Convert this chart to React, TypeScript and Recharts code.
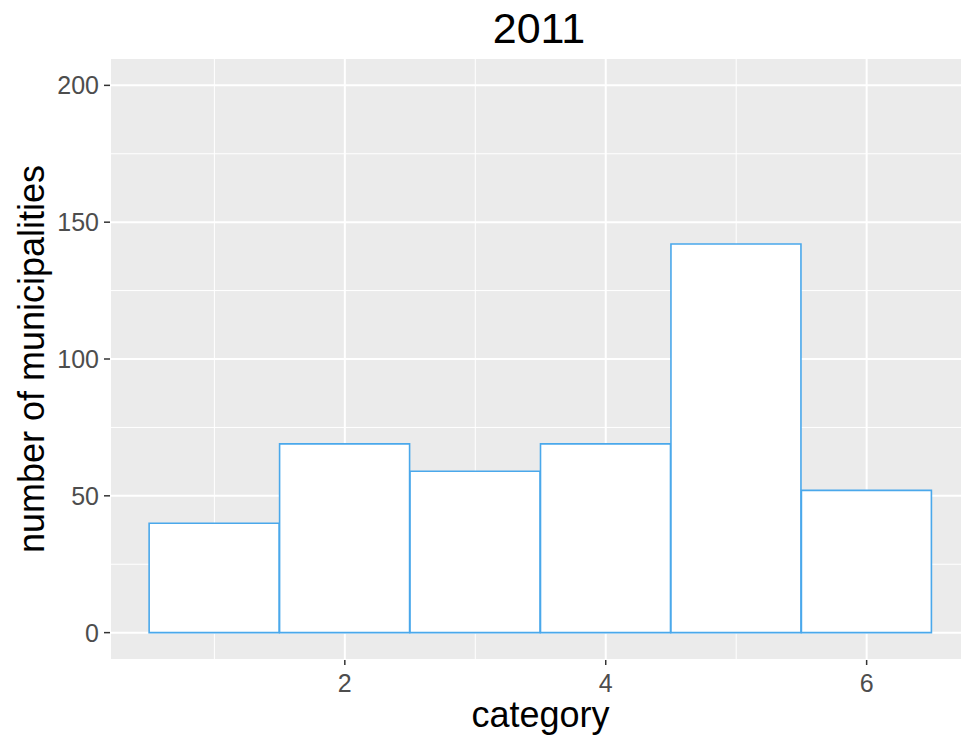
import { ComposedChart, Bar, XAxis, YAxis, CartesianGrid, Label } from "recharts";

// counts per category
const categories = [1, 2, 3, 4, 5, 6];
const counts = [40, 69, 59, 69, 142, 52];

const xTicks = [2, 4, 6];
const xMinor = [1, 3, 5];
const yTicks = [0, 50, 100, 150, 200];
const yMinor = [25, 75, 125, 175];

const rows = categories.map((c, i) => ({ category: c, count: counts[i] }));

const FONT = "'Liberation Sans', Arial, sans-serif";
const tickStyle = { fill: "#4D4D4D", fontSize: 25, fontFamily: FONT };
const X_DOMAIN: [number, number] = [0.2, 6.8];
const Y_DOMAIN: [number, number] = [-10, 210];

export default function App() {
	return (
		<div style={{ position: "absolute", left: 0, top: 0, width: 961, height: 739, background: "#fff", overflow: "hidden" }}>
			<ComposedChart
				width={961}
				height={739}
				data={rows}
				margin={{ top: 58, right: -10, left: 0, bottom: 0 }}
				barCategoryGap={0}
				barGap={0}
			>
				{/* panel + minor grid (hidden helper axes carry the minor breaks) */}
				<CartesianGrid fill="#EBEBEB" stroke="#FFFFFF" strokeWidth={1} xAxisId="minor" yAxisId="minor" />
				{/* major grid */}
				<CartesianGrid stroke="#FFFFFF" strokeWidth={2} fill="none" />
				<XAxis xAxisId="minor" dataKey="category" type="number" domain={X_DOMAIN} ticks={xMinor} allowDataOverflow hide />
				<YAxis yAxisId="minor" type="number" domain={Y_DOMAIN} ticks={yMinor} allowDataOverflow hide />
				<XAxis
					dataKey="category"
					type="number"
					domain={X_DOMAIN}
					ticks={xTicks}
					allowDataOverflow
					height={79}
					axisLine={false}
					tickSize={5}
					tickMargin={9}
					tickLine={{ stroke: "#333333", strokeWidth: 1.5 }}
					tick={tickStyle}
				>
					<Label value="category" position="insideBottom" offset={12} style={{ fontSize: 36, fontFamily: FONT, fill: "#000" }} />
				</XAxis>
				<YAxis
					type="number"
					domain={Y_DOMAIN}
					ticks={yTicks}
					allowDataOverflow
					width={110}
					axisLine={false}
					tickSize={6}
					tickMargin={5}
					tickLine={{ stroke: "#333333", strokeWidth: 1.5 }}
					tick={tickStyle}
				>
					<Label
						content={({ viewBox }: any) => {
							const cx = 44;
							const cy = viewBox.y + viewBox.height / 2;
							return (
								<text x={cx} y={cy} transform={`rotate(-90, ${cx}, ${cy})`} textAnchor="middle" fontSize={36} fontFamily={FONT} fill="#000">
									number of municipalities
								</text>
							);
						}}
					/>
				</YAxis>
				<Bar dataKey="count" fill="#FFFFFF" stroke="#4AA8EB" strokeWidth={1.6} isAnimationActive={false} />
			</ComposedChart>
			<svg width={961} height={60} style={{ position: "absolute", left: 0, top: 0 }}>
				<text x={539} y={43} textAnchor="middle" fontSize={43} fontFamily={FONT} fill="#000">
					2011
				</text>
			</svg>
		</div>
	);
}
